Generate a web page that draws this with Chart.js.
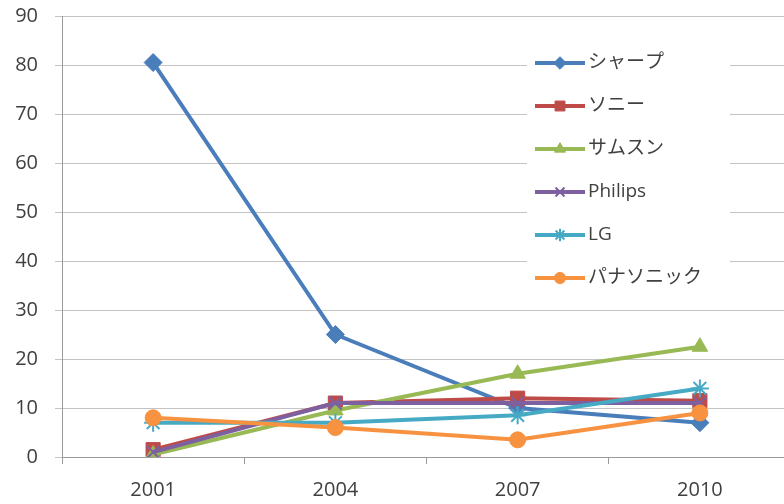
<!DOCTYPE html>
<html>
<head>
<meta charset="utf-8">
<script src="https://cdn.jsdelivr.net/npm/chart.js@4"></script>
<style>
  html, body { margin: 0; padding: 0; background: #fff; overflow: hidden; }
  #wrap { position: absolute; left: 0; top: 0; width: 784px; height: 504px; overflow: hidden; }
  #wrap canvas { position: absolute; left: 0; top: 0; }
</style>
</head>
<body>
<div id="wrap"><canvas id="chart" width="802" height="504"></canvas></div>
<script>
// categories and series
const years = ['2001', '2004', '2007', '2010'];
const makers = ['シャープ', 'ソニー', 'サムスン', 'Philips', 'LG', 'パナソニック'];
const sharp = [80.5, 25, 10, 7];
const sony = [1.5, 11, 12, 11.5];
const samsung = [0.5, 9.5, 17, 22.5];
const philips = [1, 11, 11, 11];
const lg = [7, 7, 8.5, 14];
const panasonic = [8, 6, 3.5, 9];
const yMin = 0, yMax = 90, yStep = 10;

const series = [sharp, sony, samsung, philips, lg, panasonic];
const colors = ['#4A7EBB', '#BE4B48', '#98B954', '#7D60A0', '#46AAC5', '#F69240'];
const markers = ['rectRot', 'rect', 'triangle', 'crossRot', 'star', 'circle'];
const radii = [9, 10, 9, 9, 9, 8];

const FONT = '"Open Sans", "Noto Sans CJK JP", sans-serif';
Chart.defaults.font.family = FONT;

// legend sits inside the plot, on a white box over the gridlines
const insideLegend = {
  id: 'insideLegend',
  afterDraw(chart) {
    const ctx = chart.ctx;
    ctx.save();
    ctx.fillStyle = '#fff';
    ctx.fillRect(527, 25, 203, 277);
    ctx.font = '19px ' + FONT;
    ctx.textBaseline = 'middle';
    chart.data.datasets.forEach((ds, i) => {
      const y = 63 + i * 43;
      ctx.strokeStyle = ds.borderColor;
      ctx.fillStyle = ds.borderColor;
      ctx.lineWidth = 4;
      ctx.beginPath();
      ctx.moveTo(535, y);
      ctx.lineTo(585, y);
      ctx.stroke();
      ctx.lineWidth = ds.pointBorderWidth;
      Chart.helpers.drawPoint(ctx, {
        pointStyle: ds.pointStyle,
        radius: ds.pointRadius * 0.7,
        rotation: 0,
        borderWidth: ds.pointBorderWidth
      }, 560, y);
      ctx.fillStyle = '#404040';
      ctx.fillText(ds.label, 588, y);
    });
    ctx.restore();
  }
};

new Chart(document.getElementById('chart'), {
  type: 'line',
  data: {
    labels: years,
    datasets: makers.map((name, i) => ({
      label: name,
      data: series[i],
      borderColor: colors[i],
      backgroundColor: colors[i],
      borderWidth: 4,
      pointStyle: markers[i],
      pointRadius: radii[i],
      pointBorderWidth: (markers[i] === 'crossRot' || markers[i] === 'star') ? 2 : 1,
      pointBackgroundColor: colors[i],
      pointBorderColor: colors[i],
      tension: 0,
      order: makers.length - i
    }))
  },
  options: {
    responsive: false,
    animation: false,
    layout: { padding: { left: 0, top: 16, right: 3, bottom: 0 } },
    plugins: {
      legend: { display: false },
      tooltip: { enabled: false }
    },
    scales: {
      x: {
        offset: true,
        grid: {
          offset: true,
          drawOnChartArea: false,
          drawTicks: true,
          tickLength: 7,
          color: '#9a9a9a'
        },
        border: { display: true, color: '#9a9a9a', width: 1 },
        ticks: { color: '#404040', font: { size: 20 }, padding: 14, maxRotation: 0 },
        afterFit(s) { s.height = 47; }
      },
      y: {
        min: yMin,
        max: yMax,
        ticks: { stepSize: yStep, color: '#404040', font: { size: 20 }, padding: 17 },
        grid: { color: '#c4c4c4', tickLength: 7, drawTicks: true },
        border: { display: true, color: '#9a9a9a', width: 1 },
        afterFit(s) { s.width = 62; s.paddingTop = 0; s.paddingBottom = 0; }
      }
    }
  },
  plugins: [insideLegend]
});
</script>
</body>
</html>
